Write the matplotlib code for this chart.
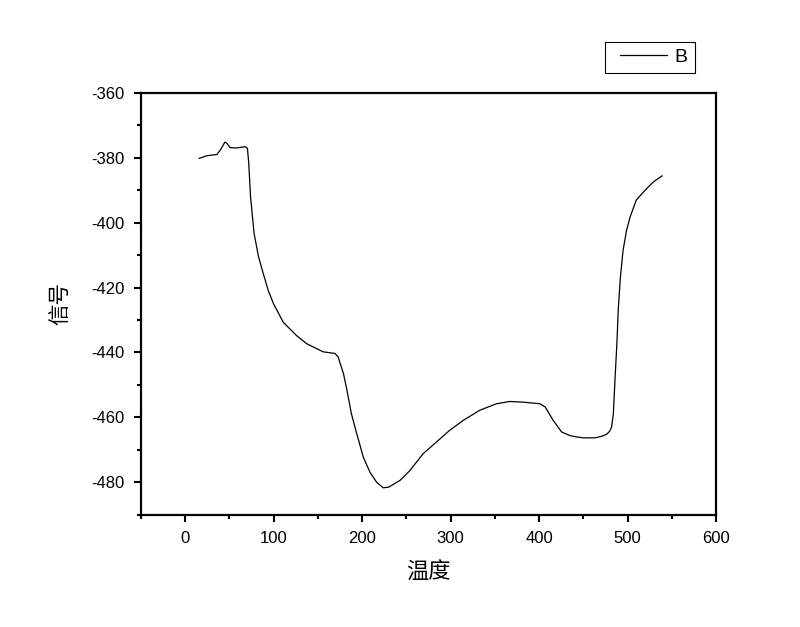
import matplotlib
matplotlib.use("Agg")
import matplotlib.pyplot as plt
from matplotlib.ticker import MultipleLocator
from matplotlib.legend_handler import HandlerLine2D

plt.rcParams['font.family'] = ['Liberation Sans', 'Noto Sans CJK SC', 'DejaVu Sans']
plt.rcParams['axes.unicode_minus'] = False

# temperature vs signal
temp = [16, 24.5, 36, 40, 45, 47, 51, 58, 68, 70.5, 72, 74, 78, 83, 88.5, 94,
        100, 111, 126, 137.5, 156, 169.5, 173, 179, 183, 188, 194, 201.5, 209,
        216.5, 224, 230, 243, 254, 269, 284, 299, 314.5, 333, 352, 367, 382,
        401, 407, 416, 425.5, 435, 442, 450, 463, 470, 476.5, 480, 482, 484,
        486, 488, 489.5, 492, 495, 499, 503, 510, 522, 530, 539]
signal = [-380.2, -379.4, -379.0, -377.6, -375.2, -375.5, -376.9, -377.0, -376.6,
          -377.1, -381.7, -392.0, -403.3, -410.5, -415.8, -420.9,
          -425.0, -430.7, -434.8, -437.3, -439.8, -440.3, -441.4, -446.5, -451.7,
          -458.9, -465.0, -472.3, -476.9,
          -480.0, -481.7, -481.5, -479.4, -476.4, -471.2, -467.6, -464.0, -460.9,
          -457.8, -455.8, -455.1, -455.3,
          -455.8, -456.8, -460.9, -464.5, -465.6, -466.0, -466.3, -466.3, -465.9,
          -465.2, -464.2, -463.0, -458.9,
          -447.6, -437.3, -427.0, -416.7, -408.5, -402.3, -398.2, -393.0, -389.4,
          -387.3, -385.6]

fig = plt.figure(figsize=(8, 6.27), dpi=100)
ax = fig.add_axes([0.176, 0.179, 0.719, 0.673])

line, = ax.plot(temp, signal, color='black', lw=0.9, label='B')

ax.set_xlim(-50, 600)
ax.set_ylim(-490, -360)
ax.xaxis.set_major_locator(MultipleLocator(100))
ax.xaxis.set_minor_locator(MultipleLocator(50))
ax.yaxis.set_major_locator(MultipleLocator(20))
ax.yaxis.set_minor_locator(MultipleLocator(10))
ax.tick_params(which='both', direction='out', width=1.5, labelsize=12, pad=7)
ax.tick_params(which='major', length=5)
ax.tick_params(which='minor', length=3)
for s in ax.spines.values():
    s.set_linewidth(1.6)

ax.set_xlabel('温度', fontsize=16, labelpad=10, family=['Noto Sans CJK SC'])
ax.set_ylabel('信号', fontsize=15.5, labelpad=13, family=['Noto Sans CJK SC'])

leg = ax.legend(handler_map={line: HandlerLine2D(xpad=0.42)},
                loc='center', bbox_to_anchor=(0.812, 0.9083),
                bbox_transform=fig.transFigure, fancybox=False,
                edgecolor='black', framealpha=1, fontsize=14,
                handlelength=2.85, handletextpad=0.4, borderpad=0.35)
leg.get_frame().set_linewidth(0.8)

fig.savefig('out.png', dpi=100)
